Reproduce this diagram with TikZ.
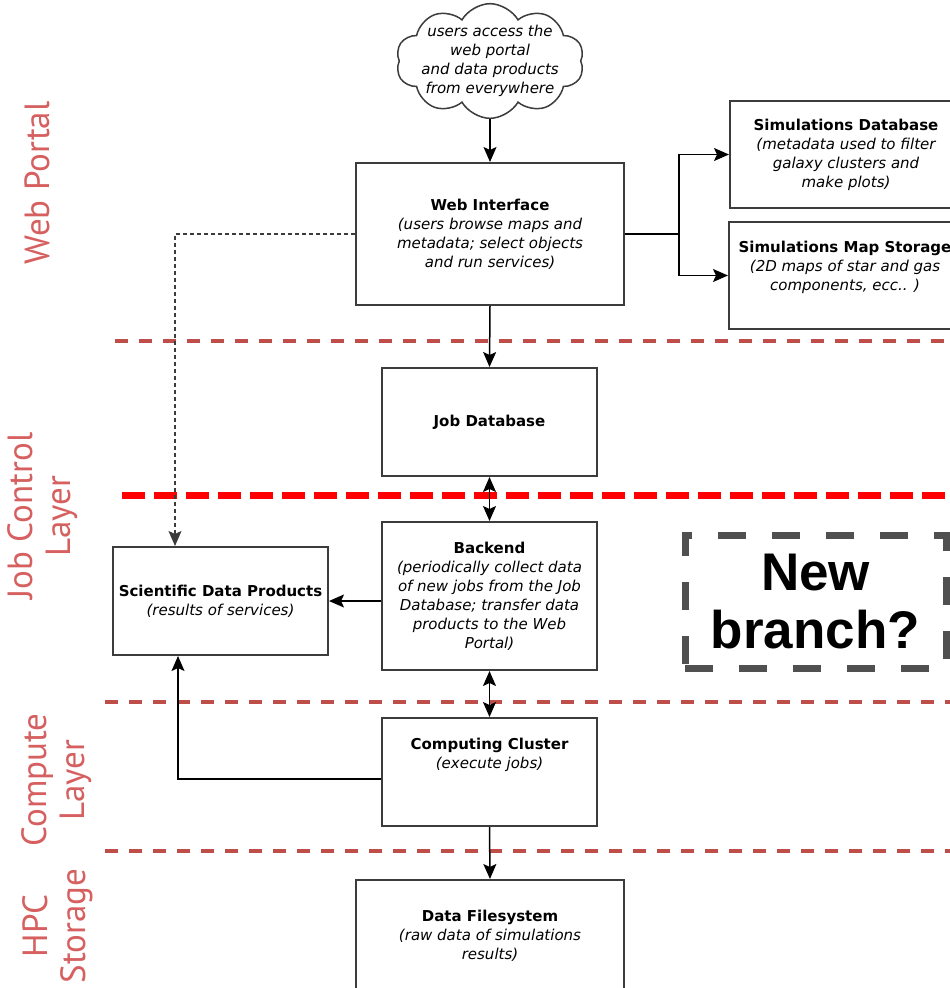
\documentclass[tikz,border=0pt]{standalone}
\usepackage{fontspec}
\setmainfont{DejaVu Sans}
\newfontfamily\layerfont{PT Sans}
\newfontfamily\bigfont{Liberation Sans}
\usetikzlibrary{arrows.meta,shapes.symbols}
\definecolor{layerred}{RGB}{214,96,96}
\definecolor{sepred}{RGB}{190,78,74}
\definecolor{boxgray}{RGB}{60,60,60}
\definecolor{branchgray}{RGB}{80,80,80}
\tikzset{
  blk/.style={draw=boxgray,line width=2pt,fill=white,align=center,minimum width=215pt,minimum height=108pt,inner sep=2pt,font=\fontsize{15}{19}\selectfont},
  arr/.style={line width=1.5pt,-{Stealth[length=15pt,width=13pt,inset=3pt]}},
  darr/.style={line width=1.5pt,{Stealth[length=15pt,width=13pt,inset=3pt]}-{Stealth[length=15pt,width=13pt,inset=3pt]}},
  sep/.style={draw=sepred,line width=4pt,dash pattern=on 13pt off 11pt},
  layer/.style={text=layerred,rotate=90,align=center,font=\layerfont\fontsize{35}{38}\selectfont}
}
\begin{document}
\begin{tikzpicture}[x=1pt,y=-1pt]
  \useasboundingbox (0,0) rectangle (950,988);
  % layer separators
  \draw[sep] (115,341) -- (950,341); \draw[sep] (105,702) -- (950,702); \draw[sep] (105,851) -- (950,851);
  \draw[red,line width=7pt,dash pattern=on 23pt off 9pt] (122,495.5) -- (950,495.5);
  % layer names
  \node[layer] (lweb) at (37,183) {Web Portal};
  \node[layer] (ljob) at (43,516) {Job Control\\Layer};
  \node[layer] (lcomp) at (57,780) {Compute\\Layer};
  \node[layer] (lhpc) at (58,926) {HPC\\Storage};
  % boxes
  \node[cloud,draw=boxgray,line width=1.5pt,cloud puffs=10,cloud puff arc=120,aspect=1.9,inner sep=-9pt,minimum width=188pt,minimum height=110pt,align=center,font=\itshape\fontsize{15}{19}\selectfont] (cloud) at (490,61) {users access the\\web portal\\and data products\\from everywhere};
  \node[blk,minimum width=268pt,minimum height=142pt] (web) at (490,234) {\textbf{Web Interface}\\\itshape(users browse maps and\\\itshape metadata; select objects\\\itshape and run services)};
  \node[blk,minimum width=232pt,minimum height=107pt] (simdb) at (846,154.5) {\textbf{Simulations Database}\\\itshape(metadata used to filter\\\itshape galaxy clusters and\\\itshape make plots)};
  \node[blk,minimum width=232pt,minimum height=107pt] (simmap) at (845,275.5) {\textbf{Simulations Map Storage}\\\itshape(2D maps of star and gas\\\itshape components, ecc.. )\\~};
  \node[blk] (jobdb) at (489.5,422) {\textbf{Job Database}};
  \node[blk,minimum height=148pt] (backend) at (489.5,596) {\textbf{Backend}\\\itshape(periodically collect data\\\itshape of new jobs from the Job\\\itshape Database; transfer data\\\itshape products to the Web\\\itshape Portal)};
  \node[blk] (sdp) at (220.5,601) {\textbf{Scientific Data Products}\\\itshape(results of services)};
  \node[blk] (cluster) at (489.5,772) {\textbf{Computing Cluster}\\\itshape(execute jobs)\\~\\~};
  \node[blk,minimum width=268pt,minimum height=112pt] (fs) at (490,936) {\textbf{Data Filesystem}\\\itshape(raw data of simulations\\\itshape results)};
  \node[draw=branchgray,line width=7pt,dash pattern=on 28pt off 26pt,minimum width=261pt,minimum height=133pt,align=center,font=\bigfont\bfseries\fontsize{53}{58}\selectfont] (branch) at (815.5,601.5) {New\\branch?};
  % connectors
  \draw[arr] (cloud.south) -- (web.north);
  \draw[line width=1.5pt] (web.east) -- ++(54,0) coordinate (split);
  \draw[arr] (split) |- (simdb); \draw[arr] (split) |- (simmap);
  \draw[arr,line width=1.2pt,draw=boxgray,dash pattern=on 4pt off 3pt] (web.west) -| ([xshift=-45.5pt]sdp.north);
  \draw[arr] (web.south) -- (jobdb.north);
  \draw[darr] (jobdb.south) -- (backend.north);
  \draw[arr] (backend.west |- sdp.east) -- (sdp.east);
  \draw[darr] (backend.south) -- (cluster.north);
  \draw[arr] ([yshift=-7pt]cluster.west) -| ([xshift=-42.5pt]sdp.south);
  \draw[arr] (cluster.south) -- (fs.north);
\end{tikzpicture}
\end{document}
